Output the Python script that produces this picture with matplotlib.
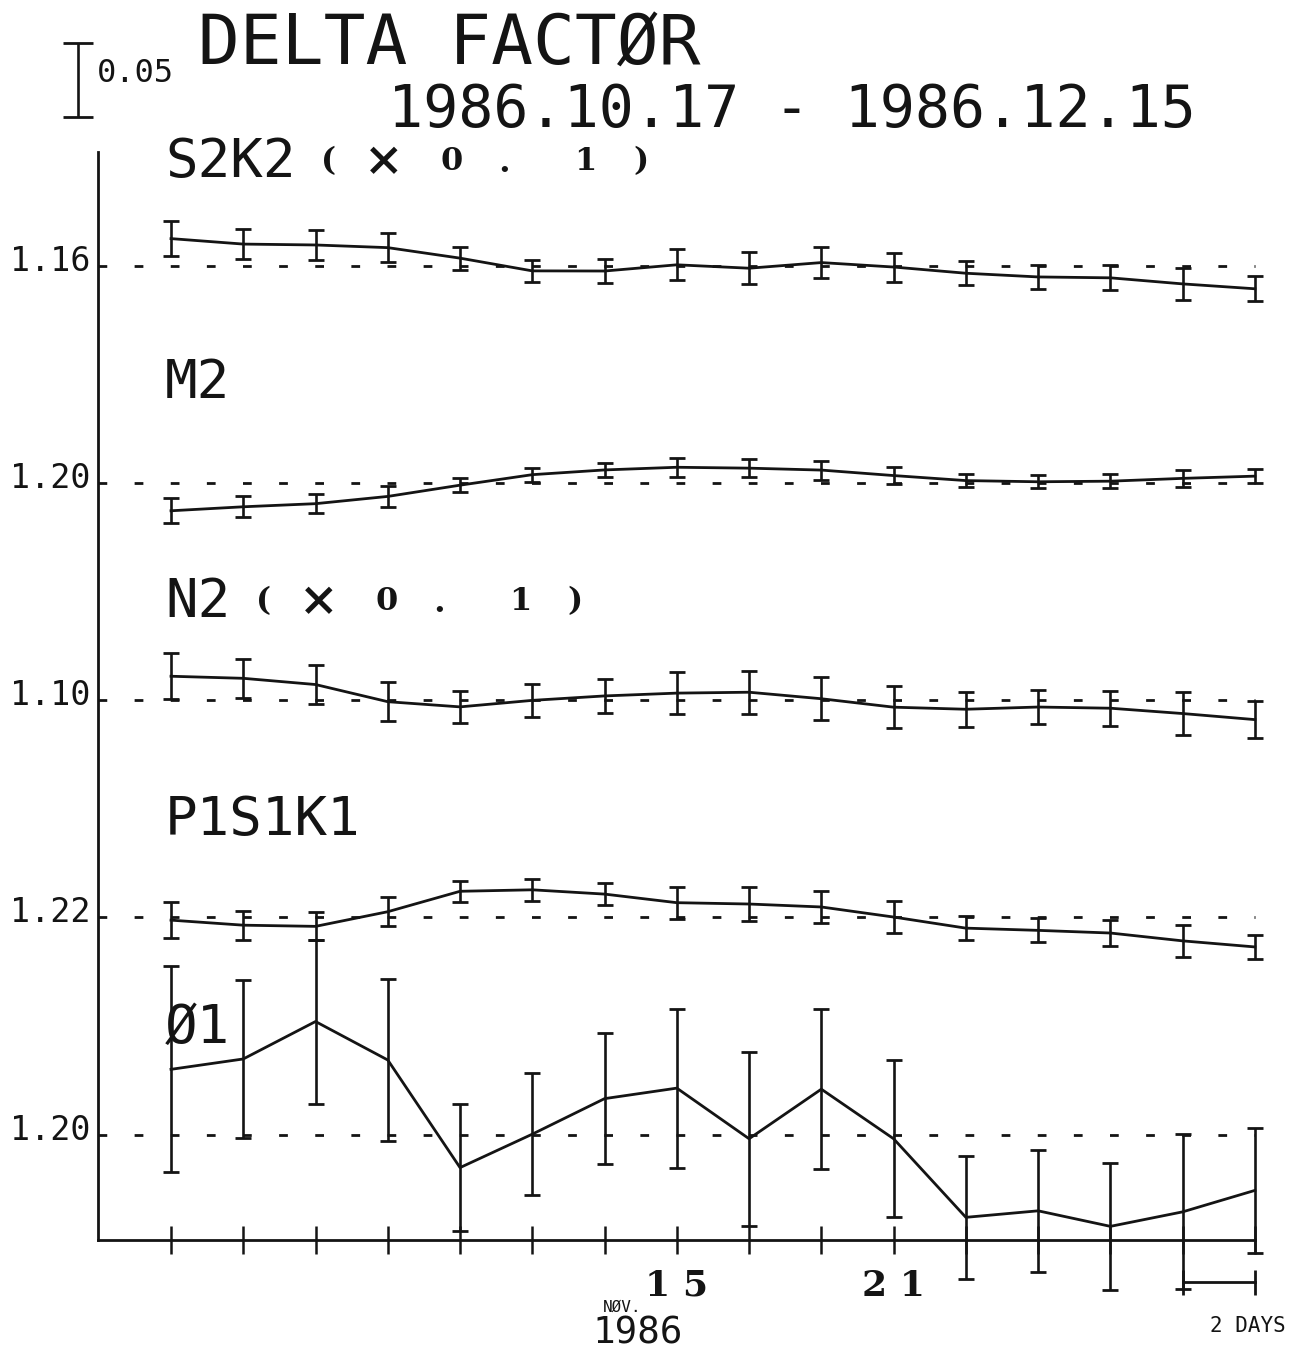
import matplotlib
matplotlib.use("Agg")
import matplotlib.pyplot as plt
import matplotlib.transforms as mtransforms

plt.rcParams["lines.scale_dashes"] = False

# ---------------------------------------------------------------- data
days = [1, 3, 5, 7, 9, 11, 13, 15, 17, 19, 21, 23, 25, 27, 29, 31]   # Nov. 1986
tick_label_days = [15, 21]

constituents = ["S2K2", "M2", "N2", "P1S1K1", "Ø1"]
ref_levels = [1.16, 1.20, 1.10, 1.22, 1.20]
ref_labels = ["1.16", "1.20", "1.10", "1.22", "1.20"]
scaled_x01 = [True, False, True, False, False]

s2k2 = [1.1782, 1.1745, 1.1739, 1.1721, 1.1650, 1.1564, 1.1563, 1.1605,
        1.1582, 1.1620, 1.1590, 1.1548, 1.1523, 1.1517, 1.1476, 1.1443]
s2k2_err = [0.0120, 0.0099, 0.0101, 0.0099, 0.0078, 0.0074, 0.0079, 0.0106,
            0.0110, 0.0107, 0.0098, 0.0082, 0.0081, 0.0084, 0.0110, 0.0084]

m2 = [1.1811, 1.1838, 1.1859, 1.1908, 1.1984, 1.2055, 1.2087, 1.2105,
      1.2099, 1.2086, 1.2049, 1.2015, 1.2007, 1.2011, 1.2030, 1.2045]
m2_err = [0.0084, 0.0070, 0.0066, 0.0070, 0.0046, 0.0047, 0.0046, 0.0063,
          0.0062, 0.0064, 0.0059, 0.0045, 0.0045, 0.0049, 0.0059, 0.0047]

n2 = [1.1161, 1.1147, 1.1105, 1.0989, 1.0954, 1.0998, 1.1028, 1.1047,
      1.1053, 1.1009, 1.0952, 1.0938, 1.0953, 1.0945, 1.0909, 1.0868]
n2_err = [0.0157, 0.0130, 0.0133, 0.0133, 0.0107, 0.0109, 0.0113, 0.0142,
          0.0145, 0.0144, 0.0140, 0.0118, 0.0116, 0.0118, 0.0144, 0.0124]

p1s1k1 = [1.2181, 1.2147, 1.2139, 1.2238, 1.2376, 1.2386, 1.2357, 1.2299,
          1.2290, 1.2270, 1.2202, 1.2127, 1.2112, 1.2094, 1.2041, 1.2000]
p1s1k1_err = [0.0123, 0.0099, 0.0095, 0.0098, 0.0071, 0.0076, 0.0076, 0.0107,
              0.0113, 0.0108, 0.0107, 0.0080, 0.0082, 0.0088, 0.0107, 0.0084]

o1 = [1.2441, 1.2511, 1.2764, 1.2504, 1.1777, 1.2003, 1.2243, 1.2314,
      1.1972, 1.2307, 1.1972, 1.1441, 1.1485, 1.1380, 1.1478, 1.1623]
o1_err = [0.0696, 0.0534, 0.0554, 0.0547, 0.0429, 0.0412, 0.0443, 0.0537,
          0.0588, 0.0541, 0.0530, 0.0416, 0.0412, 0.0429, 0.0524, 0.0422]

series = [s2k2, m2, n2, p1s1k1, o1]
errors = [s2k2_err, m2_err, n2_err, p1s1k1_err, o1_err]

scale_bar = 0.05
title = "DELTA FACTØR"
period = "1986.10.17 - 1986.12.15"

# ---------------------------------------------------------------- layout
W, H, DPI = 1290, 1353, 100
PX_PER_DAY = 36.13          # horizontal scale
PX_PER_UNIT = 1480.0        # vertical scale (0.05 -> 74 px)
PANEL_STEP = 0.1468         # vertical spacing between the stacked panels
INK = "#141414"
MONO = "DejaVu Sans Mono"
SERIF = "DejaVu Serif"

fig = plt.figure(figsize=(W / DPI, H / DPI), dpi=DPI)
fig.patch.set_facecolor("white")

ax_l, ax_r, ax_t, ax_b = 98, 1255, 152, 1240
ax = fig.add_axes([ax_l / W, 1 - ax_b / H, (ax_r - ax_l) / W, (ax_b - ax_t) / H])
x_lo = days[0] - (171 - ax_l) / PX_PER_DAY
x_hi = days[0] + (ax_r - 171) / PX_PER_DAY
y_lo = -(ax_b - 1134.6) / PX_PER_UNIT
y_hi = (1134.6 - ax_t) / PX_PER_UNIT
ax.set_xlim(x_lo, x_hi)
ax.set_ylim(y_lo, y_hi)
ax.set_facecolor("none")

for side in ("top", "right"):
    ax.spines[side].set_visible(False)
for side in ("left", "bottom"):
    ax.spines[side].set_linewidth(2.0)
    ax.spines[side].set_color(INK)
ax.set_yticks([])
ax.set_xticks(days)
ax.set_xticklabels([])
ax.tick_params(axis="x", direction="inout", length=20, width=1.8, color=INK)


def fig_text(x, y, s, **kw):
    """Place text at figure pixel coordinates (origin top-left)."""
    return fig.text(x / W, 1 - y / H, s, **kw)


def px_to_units(dpx):
    return dpx / PX_PER_UNIT


n = len(constituents)
label_tops = [142, 363, 582, 800, 1008]
label_x = 165
x01_offsets = [0, 55, 123, 176, 257, 312]
x01_chars = ["(", "×", "0", ".", "1", ")"]
x01_sizes = [23, 34, 23, 24, 23, 23]

for i, (name, ref, lab, vals, errs, sc) in enumerate(
        zip(constituents, ref_levels, ref_labels, series, errors, scaled_x01)):
    offset = (n - 1 - i) * PANEL_STEP
    ys = [v - ref + offset for v in vals]

    # dashed reference level
    ax.plot([x_lo, x_hi], [offset, offset], color=INK, lw=2.0,
            linestyle=(0, (6.3, 19.71)), solid_capstyle="butt",
            dash_capstyle="butt", clip_on=False, zorder=1)

    # series with error bars
    cont = ax.errorbar(days, ys, yerr=errs, fmt="-", color=INK, lw=2.0,
                       elinewidth=1.9, capsize=5.8, capthick=2.0, zorder=3)
    for art in cont.get_children():
        art.set_clip_on(False)

    # reference level label on the left
    ax.text(days[0] - (171 - 90) / PX_PER_DAY, offset - px_to_units(5),
            lab, ha="right", va="baseline", family=MONO, fontsize=24,
            color=INK, clip_on=False)

    # constituent name
    top = label_tops[i]
    t = fig_text(label_x, top + 35, name, ha="left", va="baseline",
                 family=MONO, fontsize=39, color=INK)
    if sc:
        fig.canvas.draw()
        bb = t.get_window_extent()
        start = bb.x1 + 24
        for ch, dx, fs in zip(x01_chars, x01_offsets, x01_sizes):
            fig.text((start + dx + 9) / W, 1 - (top + 20) / H, ch,
                     ha="center", va="center", family=SERIF,
                     fontweight="bold", fontsize=fs, color=INK)

# scale bar for 0.05
xb = days[0] - (171 - 78) / PX_PER_DAY
yb_top = (1134.6 - 43) / PX_PER_UNIT
sb = ax.errorbar([xb], [yb_top - scale_bar / 2], yerr=[scale_bar / 2], fmt="none",
                 ecolor=INK, elinewidth=1.9, capsize=11, capthick=2.0)
for art in sb.get_children():
    art.set_clip_on(False)
fig_text(97, 82, f"{scale_bar:.2f}", ha="left", va="baseline",
         family=MONO, fontsize=23, color=INK)

# titles
fig_text(198, 65, title, ha="left", va="baseline", family=MONO,
         fontsize=50, color=INK)
fig_text(388, 127, period, ha="left", va="baseline", family=MONO,
         fontsize=42, color=INK)

# date labels below the axis
xt = mtransforms.blended_transform_factory(ax.transData, fig.transFigure)
for d in tick_label_days:
    ax.text(d, 1 - 1296 / H, " ".join(str(d)), transform=xt, ha="center",
            va="baseline", family=SERIF, fontweight="bold", fontsize=26,
            color=INK, clip_on=False)
fig_text(603, 1312, "NØV.", ha="left", va="baseline", family=MONO,
         fontsize=11.5, color=INK)
fig_text(592, 1344, "1986", ha="left", va="baseline", family=MONO,
         fontsize=27, color=INK)

# two-day scale bracket
yb = -(1282 - 1134.6) / PX_PER_UNIT
yb0 = -(1270 - 1134.6) / PX_PER_UNIT
yb1 = -(1295 - 1134.6) / PX_PER_UNIT
ax.plot([days[-2], days[-1]], [yb, yb], color=INK, lw=2.0, clip_on=False)
ax.vlines([days[-2], days[-1]], yb1, yb0, color=INK, lw=2.0, clip_on=False)
fig_text(1210, 1332, "2 DAYS", ha="left", va="baseline", family=MONO,
         fontsize=15, color=INK)

fig.savefig("out.png", dpi=DPI, facecolor="white")
